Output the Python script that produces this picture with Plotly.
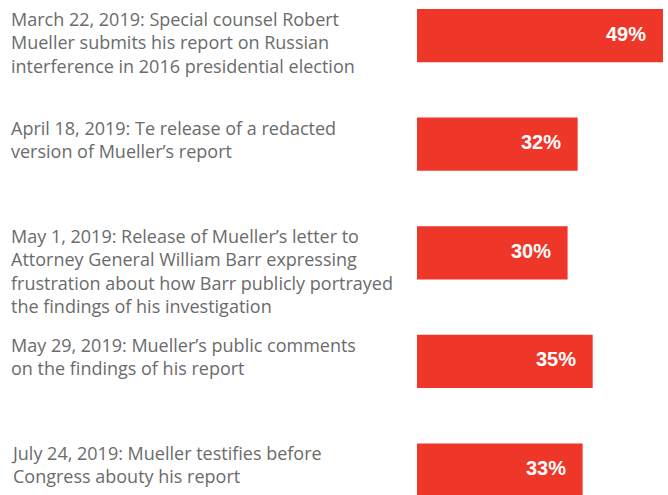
import plotly.graph_objects as go

events = [
    "March 22, 2019: Special counsel Robert<br>Mueller submits his report on Russian<br>interference in 2016 presidential election",
    "April 18, 2019: Te release of a redacted<br>version of Mueller’s report",
    "May 1, 2019: Release of Mueller’s letter to<br>Attorney General William Barr expressing<br>frustration about how Barr publicly portrayed<br>the findings of his investigation",
    "May 29, 2019: Mueller’s public comments<br>on the findings of his report",
    "July 24, 2019: Mueller testifies before<br>Congress abouty his report",
]
values = [49, 32, 30, 35, 33]

BAR_COLOR = "#EE3629"
TEXT_COLOR = "#6b6b6b"
BAR_W = 0.49

idx = list(range(len(values)))
fig = go.Figure(go.Bar(
    x=values, y=idx, orientation="h",
    marker=dict(color=BAR_COLOR, line=dict(width=0)),
    width=BAR_W, hoverinfo="skip",
))

for i, (ev, v) in enumerate(zip(events, values)):
    fig.add_annotation(
        x=0, xref="paper", y=i - BAR_W / 2, yref="y",
        xanchor="left", yanchor="top", xshift=-408, yshift=4,
        text=ev, showarrow=False, align="left",
        font=dict(family="Open Sans", size=18, color=TEXT_COLOR),
    )
    fig.add_annotation(
        x=v, xref="x", y=i, yref="y",
        xanchor="right", yanchor="middle", xshift=-15, yshift=2,
        text=f"<b>{v}%</b>", showarrow=False,
        font=dict(family="Liberation Sans", size=20, color="white"),
    )

fig.update_xaxes(range=[0, 50], visible=False, fixedrange=True)
fig.update_yaxes(range=[4.23, -0.327], visible=False, fixedrange=True)
fig.update_layout(
    width=668, height=495,
    margin=dict(l=417, r=0, t=0, b=0),
    paper_bgcolor="white", plot_bgcolor="white",
    showlegend=False,
)
fig.write_html("out.html")
